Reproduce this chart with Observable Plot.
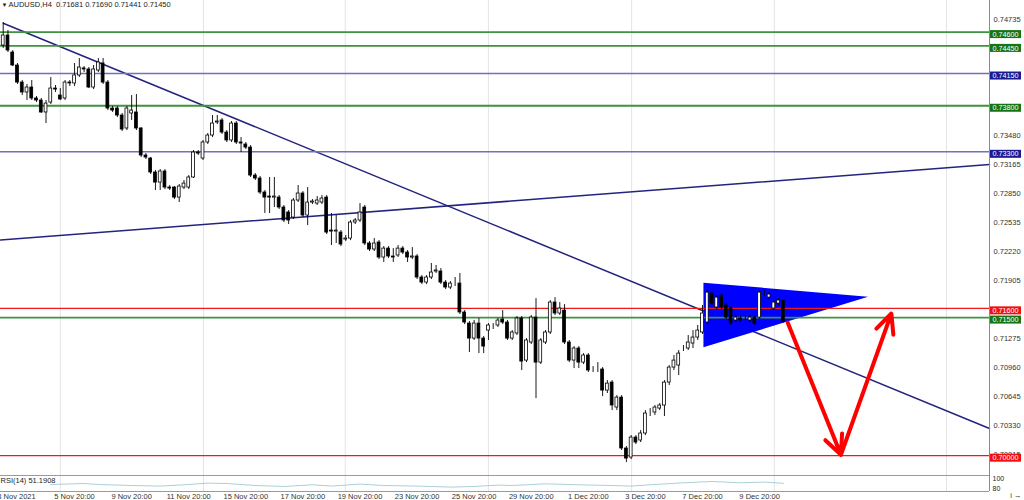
<!DOCTYPE html>
<html><head><meta charset="utf-8">
<script src="https://cdn.jsdelivr.net/npm/d3@7"></script>
<script src="https://cdn.jsdelivr.net/npm/@observablehq/plot@0.6"></script>
<style>
html,body{margin:0;padding:0;background:#fff;overflow:hidden;}
#chart svg{display:block;}
</style></head><body><div id="chart"></div>
<script>
// ---------- data ----------
const symbolName = "AUDUSD,H4";
const lastQuote = ["0.71681", "0.71690", "0.71441", "0.71450"];

const open = [0.74454,0.74563,0.74378,0.74237,0.74052,0.73944,0.73998,0.73879,0.73857,0.73727,
0.73835,0.73987,0.73911,0.73879,0.74052,0.74042,0.74129,0.74205,0.74194,0.73998,
0.74183,0.74259,0.74052,0.73770,0.73770,0.73694,0.73553,0.73716,0.73727,0.73553,
0.73260,0.73227,0.73075,0.72966,0.73086,0.72912,0.72912,0.72803,0.72912,0.72912,
0.73021,0.73292,0.73227,0.73401,0.73477,0.73618,0.73640,0.73509,0.73423,0.73607,
0.73401,0.73379,0.73346,0.73042,0.73010,0.72858,0.72814,0.72803,0.72803,0.72695,
0.72641,0.72586,0.72771,0.72847,0.72608,0.72749,0.72738,0.72749,0.72803,0.72445,
0.72434,0.72423,0.72347,0.72358,0.72532,0.72554,0.72695,0.72304,0.72239,0.72315,
0.72152,0.72249,0.72163,0.72174,0.72249,0.72206,0.72152,0.72163,0.71935,0.71880,
0.71935,0.72000,0.72000,0.71880,0.71826,0.71858,0.71869,0.71555,0.71435,0.71272,
0.71435,0.71272,0.71359,0.71403,0.71414,0.71479,0.71446,0.71272,0.71327,0.71490,
0.71033,0.71229,0.71500,0.71011,0.71229,0.71338,0.71663,0.71544,0.71576,0.71229,
0.71033,0.71164,0.71011,0.71088,0.70936,0.70936,0.70936,0.70707,0.70794,0.70523,
0.70631,0.70078,0.69980,0.70197,0.70165,0.70241,0.70458,0.70469,0.70512,0.70545,
0.70794,0.70957,0.70979,0.71164,0.71164,0.71218,0.71283,0.71338,0.71446,0.71760,
0.71609,0.71739,0.71631,0.71598,0.71468,0.71490,0.71490,0.71468,0.71500,0.71500,
0.71760,0.71717,0.71598,0.71652,0.71681];

const high = [0.74704,0.74617,0.74400,0.74259,0.74074,0.74031,0.74074,0.73900,0.73879,0.73857,
0.74107,0.74020,0.73987,0.74074,0.74074,0.74259,0.74313,0.74226,0.74215,0.74237,
0.74313,0.74313,0.74074,0.73792,0.73792,0.73716,0.73792,0.73911,0.73922,0.73564,
0.73281,0.73238,0.73097,0.73107,0.73107,0.72934,0.72923,0.72945,0.72988,0.73042,
0.73314,0.73314,0.73423,0.73499,0.73694,0.73694,0.73661,0.73531,0.73629,0.73629,
0.73455,0.73401,0.73368,0.73064,0.73032,0.72879,0.73021,0.73021,0.72825,0.72717,
0.72662,0.72793,0.72934,0.72868,0.72912,0.72782,0.72814,0.72825,0.72825,0.72630,
0.72608,0.72445,0.72391,0.72554,0.72575,0.72738,0.72717,0.72325,0.72358,0.72336,
0.72271,0.72271,0.72249,0.72282,0.72271,0.72228,0.72260,0.72184,0.71956,0.71956,
0.72087,0.72065,0.72032,0.71902,0.71891,0.71935,0.71978,0.71576,0.71457,0.71468,
0.71490,0.71294,0.71435,0.71435,0.71490,0.71576,0.71468,0.71359,0.71511,0.71511,
0.71272,0.71522,0.71706,0.71272,0.71359,0.71685,0.71717,0.71663,0.71641,0.71251,
0.71185,0.71185,0.71109,0.71109,0.70968,0.71011,0.70957,0.70816,0.70816,0.70653,
0.70653,0.70100,0.70219,0.70219,0.70273,0.70490,0.70512,0.70545,0.70566,0.70816,
0.70979,0.71088,0.71142,0.71196,0.71305,0.71359,0.71414,0.71631,0.71793,0.71782,
0.71739,0.71760,0.71652,0.71620,0.71522,0.71511,0.71511,0.71522,0.71522,0.71793,
0.71793,0.71771,0.71685,0.71706,0.71690];

const low = [0.74422,0.74378,0.74226,0.74031,0.73911,0.73857,0.73857,0.73835,0.73716,0.73607,
0.73814,0.73944,0.73857,0.73857,0.74009,0.74009,0.74107,0.74161,0.73987,0.73976,
0.74161,0.74031,0.73748,0.73727,0.73672,0.73520,0.73531,0.73640,0.73531,0.73238,
0.73216,0.73053,0.72879,0.72879,0.72890,0.72879,0.72782,0.72749,0.72890,0.72890,
0.73010,0.73260,0.73205,0.73379,0.73455,0.73596,0.73488,0.73401,0.73401,0.73379,
0.73292,0.73325,0.73021,0.72988,0.72836,0.72630,0.72630,0.72695,0.72673,0.72532,
0.72510,0.72565,0.72749,0.72586,0.72499,0.72727,0.72717,0.72727,0.72401,0.72282,
0.72304,0.72271,0.72325,0.72336,0.72510,0.72532,0.72282,0.72217,0.72217,0.72130,
0.72098,0.72141,0.72098,0.72152,0.72184,0.72098,0.72130,0.71913,0.71858,0.71858,
0.71913,0.71978,0.71858,0.71804,0.71804,0.71837,0.71533,0.71424,0.71120,0.71251,
0.71109,0.71109,0.71251,0.71370,0.71392,0.71424,0.71251,0.71251,0.71305,0.70925,
0.71011,0.71207,0.70620,0.70990,0.71207,0.71316,0.71522,0.71522,0.71207,0.71011,
0.70946,0.70946,0.70990,0.70903,0.70903,0.70903,0.70642,0.70675,0.70490,0.70490,
0.70056,0.69925,0.69958,0.70121,0.70143,0.70219,0.70425,0.70436,0.70490,0.70425,
0.70762,0.70925,0.70870,0.71131,0.71142,0.71164,0.71251,0.71316,0.71424,0.71631,
0.71587,0.71587,0.71479,0.71414,0.71446,0.71446,0.71468,0.71446,0.71414,0.71479,
0.71728,0.71695,0.71576,0.71631,0.71441];

const close = [0.74563,0.74400,0.74237,0.74052,0.73944,0.73998,0.73879,0.73857,0.73727,0.73824,
0.73987,0.73976,0.73868,0.74052,0.74042,0.74129,0.74215,0.74194,0.73998,0.74194,
0.74270,0.74052,0.73770,0.73748,0.73694,0.73542,0.73770,0.73748,0.73553,0.73260,
0.73238,0.73075,0.72966,0.73086,0.72912,0.72901,0.72803,0.72923,0.72955,0.73021,
0.73292,0.73281,0.73401,0.73477,0.73607,0.73629,0.73509,0.73423,0.73607,0.73401,
0.73390,0.73346,0.73042,0.73010,0.72858,0.72803,0.72803,0.72814,0.72695,0.72554,
0.72554,0.72771,0.72847,0.72608,0.72749,0.72760,0.72771,0.72793,0.72423,0.72434,
0.72445,0.72293,0.72358,0.72532,0.72554,0.72641,0.72304,0.72239,0.72304,0.72152,
0.72249,0.72163,0.72152,0.72249,0.72206,0.72152,0.72163,0.71935,0.71880,0.71935,
0.71989,0.72011,0.71880,0.71826,0.71869,0.71858,0.71555,0.71446,0.71272,0.71435,
0.71272,0.71185,0.71414,0.71403,0.71468,0.71446,0.71272,0.71338,0.71490,0.71022,
0.71251,0.71500,0.71011,0.71251,0.71338,0.71663,0.71544,0.71598,0.71229,0.71033,
0.71164,0.71011,0.71088,0.70925,0.70936,0.70936,0.70707,0.70783,0.70545,0.70631,
0.70078,0.69969,0.70197,0.70143,0.70241,0.70458,0.70458,0.70523,0.70545,0.70794,
0.70957,0.71033,0.71109,0.71164,0.71229,0.71283,0.71359,0.71544,0.71771,0.71652,
0.71717,0.71609,0.71500,0.71435,0.71500,0.71468,0.71490,0.71500,0.71435,0.71771,
0.71760,0.71750,0.71663,0.71685,0.71450];

// RSI(14) read at selected bars
const rsiIdx = [10,17,20,27,33,39,43,47,53,59,65,69,75,80,87,94,99,104,107,114,121,128,132,136,143,149,155,160,164];
const rsiVal = [43.8,50,43.8,37.5,33.8,43.8,52.5,50,37.5,31.3,41.9,33.8,46.3,37.5,33.8,27.5,31.3,40,37.5,48,41.9,37.5,33.8,41.9,54.4,62.5,54.4,58.8,51.19];
const rsiLabel = "RSI(14) 51.1908";
const rsiAxisLabels = ["100", "80"];

// time axis (bar index -> label)
const xTickIdx = [2.8,15,27,39,51,63,75,87,99,111,123,135,147,159];
const xTickLabels = ["3 Nov 2021","5 Nov 20:00","9 Nov 20:00","11 Nov 20:00","15 Nov 20:00","17 Nov 20:00","19 Nov 20:00","23 Nov 20:00","25 Nov 20:00","29 Nov 20:00","1 Dec 20:00","3 Dec 20:00","7 Dec 20:00","9 Dec 20:00"];
const gridIdx = [12,42.1,71.9,102,132.1,162.1,198.3];

// price axis ticks
const priceTicks = [0.74735,0.73480,0.73165,0.72850,0.72535,0.72220,0.71905,0.71275,0.70960,0.70645,0.70330,0.70015];

// horizontal levels
const levelPrices = [0.74600,0.74450,0.74150,0.73800,0.73300,0.71600,0.71500,0.70000];
const levelKinds  = ["green","green","navy","green","navy","red","green","red"];

// trend lines (bar index, price)
const downTrendIdx = [0, 207.33];
const downTrendPrice = [0.74696, 0.70295];
const upTrendIdx = [-0.57, 207.33];
const upTrendPrice = [0.72342, 0.73162];

// pennant triangle
const triIdx = [147.3, 181.9];
const triTop = [0.71873, 0.71721];
const triBottom = [0.71171, 0.71721];

// forecast arrows
const arrowFromIdx = [164.9, 176.1];
const arrowFromPrice = [0.71446, 0.70010];
const arrowToIdx = [176.1, 186.7];
const arrowToPrice = [0.70010, 0.71544];

// ---------- build tables ----------
const candles = open.map((o, i) => ({i, o, h: high[i], l: low[i], c: close[i]}));
const rsi = rsiIdx.map((i, k) => ({i, v: rsiVal[k]}));
const levels = levelPrices.map((p, k) => ({p, kind: levelKinds[k]}));
const downTrend = downTrendIdx.map((i, k) => ({i, p: downTrendPrice[k]}));
const upTrend = upTrendIdx.map((i, k) => ({i, p: upTrendPrice[k]}));
const tri = triIdx.map((i, k) => ({i, top: triTop[k], bot: triBottom[k]}));
const arrows = arrowFromIdx.map((x1, k) => ({x1, y1: arrowFromPrice[k], x2: arrowToIdx[k], y2: arrowToPrice[k]}));
const tickLabel = new Map(xTickIdx.map((d, k) => [d, xTickLabels[k]]));

const lineColor = {green: "#3f923f", navy: "#7171b8", red: "#f01818"};
const lineWidth = {green: 1.8, navy: 1.4, red: 1.3};
const boxColor = {green: "#157515", navy: "#1a1a92", red: "#f01010"};

const xDomain = [-0.57, 207.33];
const yDomain = [0.69785, 0.74943];
const FONT = "'Liberation Sans', Arial, Helvetica, sans-serif";
const fmt5 = d3.format(".5f");

function levelLabels(index, scales, values, dimensions) {
  const g = d3.create("svg:g").attr("font-family", FONT);
  const x0 = dimensions.width - dimensions.marginRight + 1;
  levels.forEach(d => {
    const y = scales.y(d.p);
    g.append("rect").attr("x", x0).attr("y", y - 1.5).attr("width", 31).attr("height", 8)
      .attr("fill", boxColor[d.kind]);
    g.append("text").attr("x", x0 + 15.5).attr("y", y + 2.6)
      .attr("text-anchor", "middle").attr("dominant-baseline", "central")
      .attr("fill", "white").attr("font-size", 7.2).text(fmt5(d.p));
  });
  return g.node();
}

const main = Plot.plot({
  width: 1024, height: 475,
  marginLeft: 0, marginRight: 35, marginTop: 0, marginBottom: 0,
  style: {fontFamily: FONT, fontSize: "7.5px", background: "white", color: "#222"},
  x: {domain: xDomain, axis: null},
  y: {domain: yDomain, axis: null},
  marks: [
    Plot.ruleX(gridIdx, {stroke: "#e4e4e4", strokeWidth: 1}),
    Plot.line(downTrend, {x: "i", y: "p", stroke: "#24247f", strokeWidth: 1.5}),
    Plot.line(upTrend, {x: "i", y: "p", stroke: "#24247f", strokeWidth: 1.5}),
    Plot.areaY(tri, {x: "i", y1: "bot", y2: "top", fill: "#0000ff", curve: "linear"}),
    ...["green", "navy", "red"].map(k =>
      Plot.ruleY(levels.filter(d => d.kind === k), {y: "p", stroke: lineColor[k], strokeWidth: lineWidth[k]})),
    Plot.ruleX(candles, {x: "i", y1: "l", y2: "h", stroke: "#000", strokeWidth: 0.9}),
    Plot.rect(candles, {
      x1: d => d.i - 0.3, x2: d => d.i + 0.3, y1: "o", y2: "c",
      fill: d => d.c > d.o ? "#fff" : "#000", stroke: "#000", strokeWidth: 0.8
    }),
    Plot.arrow(arrows, {x1: "x1", y1: "y1", x2: "x2", y2: "y2", stroke: "#ff0000",
      strokeWidth: 4, headLength: 8, headAngle: 50}),
    Plot.ruleX([xDomain[1]], {stroke: "#8a8a8a", strokeWidth: 1}),
    Plot.axisY(priceTicks, {anchor: "right", tickSize: 0, tickPadding: 4,
      tickFormat: fmt5, fontSize: 7.5, fill: "#333"}),
    levelLabels,
    Plot.text(["▼"], {frameAnchor: "top-left", dx: 1, dy: 2, lineAnchor: "top",
      textAnchor: "start", fontSize: 6, fill: "#222"}),
    Plot.text([symbolName + "\u00a0\u00a0" + lastQuote.join(" ")], {frameAnchor: "top-left",
      dx: 8, dy: 1.5, lineAnchor: "top", textAnchor: "start", fontSize: 7.5, fill: "#222"})
  ]
});

const lower = Plot.plot({
  width: 1024, height: 25,
  marginLeft: 0, marginRight: 35, marginTop: 0, marginBottom: 9,
  style: {fontFamily: FONT, fontSize: "7.5px", background: "white", color: "#222"},
  x: {domain: xDomain, axis: null},
  y: {domain: [0, 100], axis: null},
  marks: [
    Plot.ruleX(gridIdx, {stroke: "#e4e4e4", strokeWidth: 1}),
    Plot.ruleY([0, 100], {stroke: "#9a9a9a", strokeWidth: 1}),
    Plot.ruleX([xDomain[1]], {stroke: "#8a8a8a", strokeWidth: 1}),
    Plot.line(rsi, {x: "i", y: "v", stroke: "#9fcbd3", strokeWidth: 0.9, curve: "linear"}),
    Plot.text([rsiLabel], {frameAnchor: "top-left", dx: 0, dy: 2, lineAnchor: "top",
      textAnchor: "start", fontSize: 7.5, fill: "#222"}),
    Plot.text([rsiAxisLabels[0]], {frameAnchor: "top-right", dx: 3, dy: 1, lineAnchor: "top",
      textAnchor: "start", fontSize: 7, fill: "#222"}),
    Plot.text([rsiAxisLabels[1]], {frameAnchor: "bottom-right", dx: 3, dy: -1, lineAnchor: "bottom",
      textAnchor: "start", fontSize: 7, fill: "#222"}),
    Plot.axisX(xTickIdx, {anchor: "bottom", tickSize: 0, tickPadding: 2,
      tickFormat: d => tickLabel.get(d), fontSize: 7.5, fill: "#333"})
  ]
});

document.getElementById("chart").append(main, lower);
</script>
</body></html>
